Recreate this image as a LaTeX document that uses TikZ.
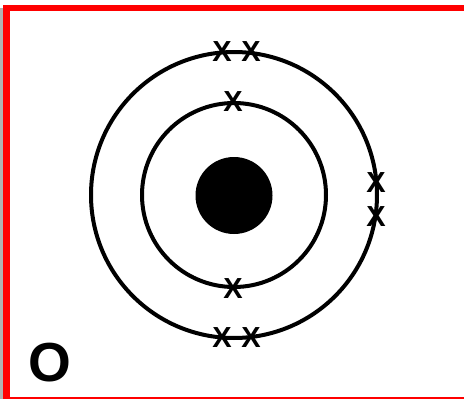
\documentclass[tikz,border=0pt]{standalone}
\usepackage{fontspec}
\setmainfont{Liberation Sans}
\begin{document}
\begin{tikzpicture}[x=1pt,y=-1pt,
  orbit/.style={draw=black,line width=4pt},
  elec/.style={inner sep=0pt,font=\fontsize{29}{29}\selectfont\bfseries}]
\useasboundingbox (0,0) rectangle (464,399);
% frame
\fill[gray!60] (0,8) rectangle (3.5,399);
\fill[red] (3,5) rectangle (464,11);
\fill[red] (3,5) rectangle (10,399);
\fill[red] (3,397) rectangle (464,398.5);
% atom
\coordinate (c) at (234,195);
\draw[orbit] (c) circle[radius=143];
\draw[orbit] (c) circle[radius=92];
\fill[black] (234,195.5) circle[radius=38.5];
% electrons
\node[elec] (e1) at (222,52) {X};
\node[elec] (e2) at (251,52) {X};
\node[elec] (e3) at (233,102) {X};
\node[elec] (e4) at (233,289) {X};
\node[elec] (e5) at (222,338) {X};
\node[elec] (e6) at (251,338) {X};
\node[elec] (e7) at (376,183) {X};
\node[elec] (e8) at (376,217) {X};
% label
\node[inner sep=0pt,font=\fontsize{55}{55}\selectfont\bfseries] (lab) at (50,363) {O};
\end{tikzpicture}
\end{document}
